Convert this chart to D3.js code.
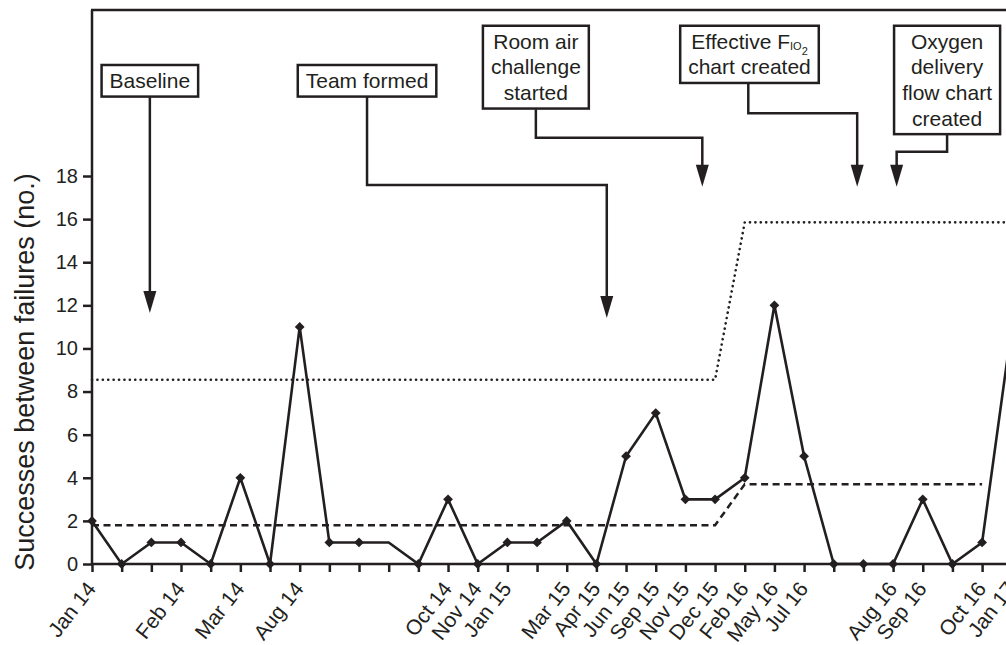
<!DOCTYPE html>
<html lang="en">
<head>
<meta charset="UTF-8">
<script src="https://d3js.org/d3.v7.min.js"></script>
<style>
  body { margin: 0; background: #fff; }
  text { font-family: "Liberation Sans", Arial, sans-serif; fill: #231f20; }
</style>
</head>
<body>
<svg width="1006" height="645"></svg>
<script>
// x categories, one per observation
const months = ["Jan 14", "", "", "Feb 14", "", "Mar 14", "", "Aug 14", "", "", "", "",
  "Oct 14", "Nov 14", "Jan 15", "", "Mar 15", "Apr 15", "Jun 15", "Sep 15", "Nov 15",
  "Dec 15", "Feb 16", "May 16", "Jul 16", "", "", "Aug 16", "Sep 16", "", "Oct 16", "Jan 17"];
const successes = [2, 0, 1, 1, 0, 4, 0, 11, 1, 1, 1, 0, 3, 0, 1, 1, 2, 0, 5, 7, 3, 3, 4, 12, 5,
  0, 0, 0, 3, 0, 1, 11];
const unmarked = [10];

// centre line (dashed) and upper control limit (dotted)
const clIndex = [0, 21, 22, 30];
const clValue = [1.8, 1.8, 3.7, 3.7];
const uclIndex = [0, 21, 22, 31];
const uclValue = [8.55, 8.55, 15.85, 15.85];

const yTicks = [0, 2, 4, 6, 8, 10, 12, 14, 16, 18];

// annotations: box centre (index), box top (value), connector path in (index, value)
const notes = [
  { lines: ["Baseline"], cx: 1.95, top: 23.15,
    path: [[1.95, 21.7], [1.95, 11.64]] },
  { lines: ["Team formed"], cx: 9.27, top: 23.15,
    path: [[9.27, 21.7], [9.27, 17.58], [17.35, 17.58], [17.35, 11.41]] },
  { lines: ["Room air", "challenge", "started"], cx: 14.96, top: 24.97,
    path: [[14.96, 21.1], [14.96, 19.78], [20.57, 19.78], [20.57, 17.5]] },
  { lines: ["Effective F|IO|2", "chart created"], cx: 22.16, top: 24.97,
    path: [[22.12, 22.3], [22.12, 20.91], [25.79, 20.91], [25.79, 17.5]] },
  { lines: ["Oxygen", "delivery", "flow chart", "created"], cx: 28.82, top: 24.97,
    path: [[28.82, 19.9], [28.82, 19.13], [27.12, 19.13], [27.12, 17.5]] }
];

const ink = "#231f20";
const svg = d3.select("svg");
const x0 = 92, y0 = 564, frameTop = 10;

const x = d3.scaleLinear().domain([0, 31]).range([x0, x0 + 31 * 29.67]);
const y = d3.scaleLinear().domain([0, 18]).range([y0, 176]);

// frame: left axis and top border
svg.append("line").attr("x1", x0).attr("x2", x0).attr("y1", frameTop).attr("y2", y0)
  .attr("stroke", ink).attr("stroke-width", 2.5);
svg.append("line").attr("x1", x0 - 1).attr("x2", 1010).attr("y1", frameTop).attr("y2", frameTop)
  .attr("stroke", ink).attr("stroke-width", 2.5);

// y axis
const yAxis = svg.append("g").attr("transform", "translate(" + x0 + ",0)")
  .call(d3.axisLeft(y).tickValues(yTicks).tickSize(9).tickPadding(5).tickFormat(d3.format("d")));
yAxis.select(".domain").remove();
yAxis.selectAll(".tick line").attr("stroke", ink).attr("stroke-width", 2.5);
yAxis.selectAll(".tick text").style("font-size", "20px").style("font-family", "Liberation Sans, Arial, sans-serif").attr("fill", ink);

// x axis
const xAxis = svg.append("g").attr("transform", "translate(0," + y0 + ")")
  .call(d3.axisBottom(x).tickValues(d3.range(months.length)).tickSize(8).tickFormat(""));
xAxis.select(".domain").remove();
xAxis.selectAll(".tick line").attr("stroke", ink).attr("stroke-width", 2.5);
svg.append("line").attr("x1", x0).attr("x2", 1010).attr("y1", y0).attr("y2", y0)
  .attr("stroke", ink).attr("stroke-width", 2.5);

svg.append("g").selectAll("text")
  .data(months.map((m, i) => ({ m, i })).filter(d => d.m))
  .join("text")
  .attr("transform", d => "translate(" + (x(d.i) + 5) + "," + (y0 + 25) + ") rotate(-52)")
  .attr("text-anchor", "end")
  .style("font-size", "21px")
  .text(d => d.m);

// y label
svg.append("text")
  .attr("transform", "translate(34,372) rotate(-90)")
  .attr("text-anchor", "middle")
  .style("font-size", "27px")
  .text("Successes between failures (no.)");

// control limits
const limitLine = d3.line().x(d => x(d[0])).y(d => y(d[1]));
svg.append("path")
  .attr("d", limitLine(uclIndex.map((d, i) => [d, uclValue[i]])))
  .attr("fill", "none").attr("stroke", ink).attr("stroke-width", 2.6)
  .attr("stroke-linecap", "round").attr("stroke-dasharray", "0.1 5.3");
svg.append("path")
  .attr("d", limitLine(clIndex.map((d, i) => [d, clValue[i]])))
  .attr("fill", "none").attr("stroke", ink).attr("stroke-width", 2.5)
  .attr("stroke-dasharray", "7 4.5");

// data line and markers
svg.append("path")
  .attr("d", d3.line().x((d, i) => x(i)).y(d => y(d))(successes))
  .attr("fill", "none").attr("stroke", ink).attr("stroke-width", 2.6)
  .attr("stroke-linejoin", "miter");

svg.append("g").selectAll("path")
  .data(successes.map((v, i) => ({ v, i })).filter(d => !unmarked.includes(d.i)))
  .join("path")
  .attr("transform", d => "translate(" + x(d.i) + "," + y(d.v) + ") rotate(45)")
  .attr("d", d3.symbol().type(d3.symbolSquare).size(48))
  .attr("fill", ink);

// annotations
const lineGap = 25.6;
const ann = svg.append("g");
notes.forEach(n => {
  const g = ann.append("g");
  const cx = x(n.cx), top = y(n.top);
  const h = lineGap * n.lines.length + 6;
  const box = g.append("rect").attr("fill", "#fff").attr("stroke", ink).attr("stroke-width", 2.5);
  const txt = g.append("text").attr("text-anchor", "middle").style("font-size", "21px");
  n.lines.forEach((ln, i) => {
    const t = txt.append("tspan").attr("x", cx).attr("y", top + 23 + i * lineGap);
    const parts = ln.split("|");
    t.text(parts[0]);
    if (parts.length > 1) {
      txt.append("tspan").attr("dy", 1).style("font-size", "11px").text(parts[1]);
      txt.append("tspan").attr("dy", 5).style("font-size", "11px").text(parts[2]);
    }
  });
  const bb = txt.node().getBBox();
  const w = bb.width + 16;
  box.attr("x", cx - w / 2).attr("y", top).attr("width", w).attr("height", h);

  const pts = n.path.map(p => [x(p[0]), y(p[1])]);
  const tip = pts[pts.length - 1];
  const shaft = pts.slice(0, -1).concat([[tip[0], tip[1] - 18]]);
  g.append("path").attr("d", d3.line()(shaft))
    .attr("fill", "none").attr("stroke", ink).attr("stroke-width", 2.5);
  g.append("path")
    .attr("d", d3.line()([[tip[0] - 6.5, tip[1] - 22], [tip[0] + 6.5, tip[1] - 22], tip]) + "Z")
    .attr("fill", ink);
});
</script>
</body>
</html>
